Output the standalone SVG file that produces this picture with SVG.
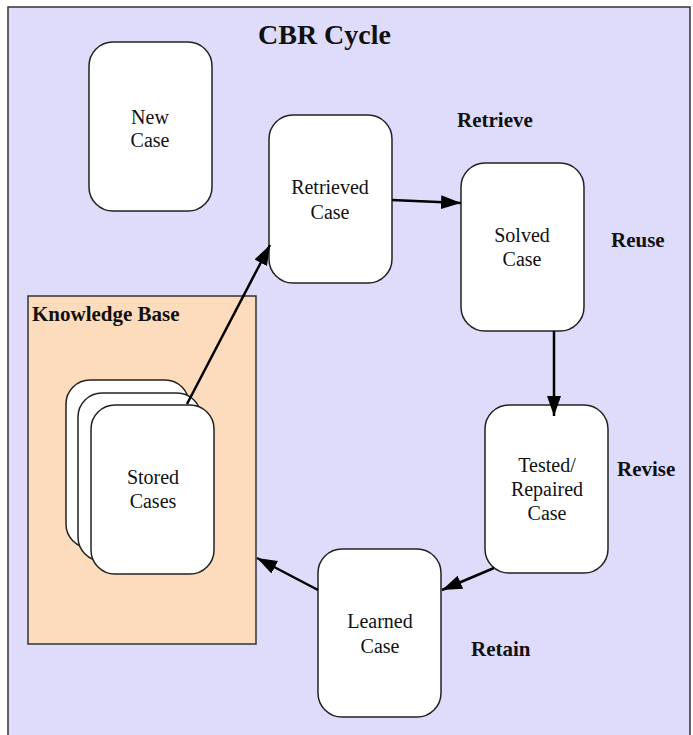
<svg xmlns="http://www.w3.org/2000/svg" width="693" height="735" viewBox="0 0 693 735">
<defs>
<style>
.frame{fill:#dedcfa;stroke:#333;stroke-width:1.5}
.kb{fill:#fcdcbc;stroke:#333;stroke-width:1.5}
.node{fill:#fff;stroke:#222;stroke-width:1.5}
.t{font-family:"Liberation Serif",serif;font-size:20px;fill:#111;text-anchor:middle}
.b{font-family:"Liberation Serif",serif;font-size:21px;font-weight:bold;fill:#111}
.edge{stroke:#000;stroke-width:2.5;fill:none;marker-end:url(#ah)}
</style>
<marker id="ah" markerUnits="userSpaceOnUse" markerWidth="22" markerHeight="16" refX="20" refY="7" orient="auto">
<path d="M0,0 L20,7 L0,14 z" fill="#000"/>
</marker>
</defs>
<rect class="frame" x="8" y="7" width="682" height="740"/>
<text class="b" x="258" y="44" style="font-size:28px">CBR Cycle</text>

<g id="knowledge-base">
<rect class="kb" x="28" y="296" width="228" height="348"/>
<text class="b" x="32" y="321">Knowledge Base</text>
</g>

<g id="stored-cases">
<rect class="node" x="66" y="380" width="123" height="168" rx="24"/>
<rect class="node" x="78" y="393" width="123" height="168" rx="24"/>
<rect class="node" x="91" y="405" width="123" height="169" rx="24"/>
<text class="t" x="153" y="484">Stored</text>
<text class="t" x="153" y="508">Cases</text>
</g>

<g id="new-case">
<rect class="node" x="89" y="42" width="123" height="169" rx="24"/>
<text class="t" x="150" y="124">New</text>
<text class="t" x="150" y="147">Case</text>
</g>

<g id="retrieved-case">
<rect class="node" x="269" y="115" width="123" height="168" rx="24"/>
<text class="t" x="330" y="194">Retrieved</text>
<text class="t" x="330" y="219">Case</text>
</g>

<g id="solved-case">
<rect class="node" x="461" y="163" width="123" height="168" rx="24"/>
<text class="t" x="522" y="242">Solved</text>
<text class="t" x="522" y="266">Case</text>
</g>

<g id="tested-case">
<rect class="node" x="485" y="405" width="123" height="168" rx="24"/>
<text class="t" x="547" y="472">Tested/</text>
<text class="t" x="547" y="496">Repaired</text>
<text class="t" x="547" y="520">Case</text>
</g>

<g id="learned-case">
<rect class="node" x="318" y="549" width="123" height="168" rx="24"/>
<text class="t" x="380" y="628">Learned</text>
<text class="t" x="380" y="653">Case</text>
</g>

<g id="labels">
<text class="b" x="457" y="127">Retrieve</text>
<text class="b" x="611" y="247">Reuse</text>
<text class="b" x="617" y="476">Revise</text>
<text class="b" x="471" y="656">Retain</text>
</g>

<g id="connectors">
<line class="edge" x1="187" y1="404" x2="270" y2="245"/>
<line class="edge" x1="392" y1="200" x2="461" y2="203"/>
<line class="edge" x1="554" y1="331" x2="554" y2="416"/>
<line class="edge" x1="494" y1="568" x2="442" y2="590"/>
<line class="edge" x1="318" y1="590" x2="257" y2="558"/>
</g>
</svg>
